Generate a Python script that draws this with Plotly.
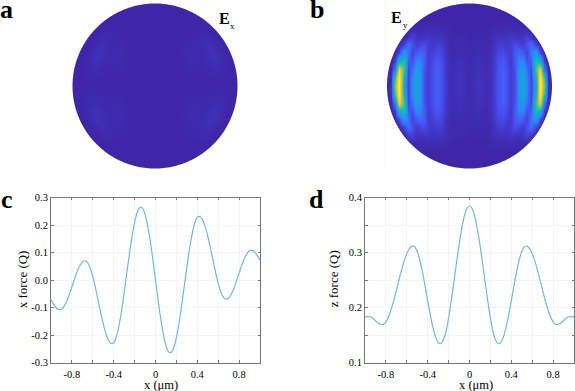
import numpy as np
import plotly.graph_objects as go

W, H = 575, 391
OFFSET = 20   # page is drawn taller than the window and moved up, so labels can touch the window edges
FIG_H = H + 2 * OFFSET

# Force curves, right half (x force is odd, z force is even about x = 0)
x_right = [0,.025,.05,.075,.1,.125,.15,.175,.2,.225,.25,.275,.3,.325,.35,.375,.4,.425,.45,.475,.5,
           .525,.55,.575,.6,.625,.65,.675,.7,.725,.75,.775,.8,.825,.85,.875,.9,.925,.95,.975,1.0]
fx_right = [0,-.0734,-.141,-.1975,-.2388,-.2613,-.2634,-.2454,-.2089,-.1568,-.0933,-.0236,.0466,.1118,.1665,.2066,.2284,.2309,.2187,.194,.1592,
            .1171,.0719,.0275,-.0121,-.0435,-.063,-.07,-.0653,-.0516,-.0304,-.004,.0248,.0531,.0777,.0961,.1063,.1075,.101,.088,.072]
fz_right = [.385,.3801,.3658,.3431,.314,.2805,.2454,.2115,.1812,.1558,.141,.1342,.1366,.1468,.164,.1865,.2123,.239,.2644,.2859,.3018,
            .3105,.3116,.3071,.2979,.2847,.2683,.25,.231,.2127,.1963,.1831,.1739,.1694,.1695,.172,.176,.1803,.1832,.184,.1825]

# Field maps: one quadrant
grid_x = [0,0.05,0.1,0.15,0.2,0.25,0.3,0.35,0.4,0.45,0.5,0.55,0.6,0.65,0.7,0.75,0.8,0.85,0.9,0.95,1.0]
grid_y = [0,0.1,0.2,0.3,0.4,0.5,0.6,0.7,0.8,0.9,0.98]
E_y = [
 [.01,.02,.03,.025,.015,.02,.05,.10,.13,.09,.05,.09,.25,.34,.20,.06,.30,1.0,.60,.03,0],
 [.01,.02,.03,.025,.015,.02,.05,.10,.13,.09,.05,.09,.24,.32,.19,.06,.36,.98,.50,.02,0],
 [.01,.015,.025,.02,.015,.02,.05,.095,.125,.085,.05,.10,.23,.28,.15,.07,.50,.85,.18,.01,0],
 [.01,.015,.02,.015,.01,.02,.045,.09,.11,.075,.045,.12,.20,.20,.09,.12,.45,.35,.05,0,0],
 [.005,.01,.015,.01,.01,.015,.04,.075,.085,.055,.05,.12,.15,.11,.06,.17,.27,.08,.01,0,0],
 [.005,.01,.01,.01,.005,.01,.03,.055,.055,.04,.055,.09,.07,.05,.10,.16,.06,.01,0,0,0],
 [0,.005,.005,.005,.005,.01,.02,.03,.03,.03,.04,.03,.025,.035,.06,.03,.005,0,0,0,0],
 [0,0,0,0,0,.005,.01,.01,.01,.015,.01,.01,.01,.01,.005,0,0,0,0,0,0],
 [0]*21, [0]*21, [0]*21,
]
E_x = [
 [0]*21,
 [0,0,0,0,0,0,0,0,.002,.002,.001,.001,.002,.003,.004,.005,.004,.002,0,0,0],
 [0,0,0,0,0,0,0,.002,.005,.006,.004,.003,.005,.008,.011,.012,.009,.004,0,0,0],
 [0,0,0,0,0,0,.001,.004,.009,.012,.008,.006,.009,.014,.019,.02,.012,.004,0,0,0],
 [0,0,0,0,0,0,.002,.005,.01,.012,.008,.008,.013,.019,.025,.018,.007,0,0,0,0],
 [0,0,0,0,0,0,.001,.003,.006,.006,.006,.01,.015,.02,.014,.006,0,0,0,0,0],
 [0,0,0,0,0,0,0,.001,.002,.004,.006,.01,.009,.006,.002,0,0,0,0,0,0],
 [0]*21, [0]*21, [0]*21, [0]*21,
]

parula = [[0,"rgb(62,38,168)"],[0.1,"rgb(72,82,244)"],[0.2,"rgb(46,135,247)"],[0.3,"rgb(20,165,220)"],
          [0.4,"rgb(10,185,190)"],[0.5,"rgb(60,195,140)"],[0.6,"rgb(130,200,90)"],[0.7,"rgb(200,190,60)"],
          [0.8,"rgb(250,195,60)"],[0.9,"rgb(250,220,40)"],[1,"rgb(249,251,21)"]]

x_ticks = [-0.8,-0.6,-0.4,-0.2,0,0.2,0.4,0.6,0.8]
x_labels = ["-0.8","","-0.4","","0","","0.4","","0.8"]
yc_ticks = [-0.3,-0.2,-0.1,0,0.1,0.2,0.3]
yc_labels = ["-0.3","-0.2","-0.1","0.0","0.1","0.2","0.3"]
yd_ticks = [0.1,0.15,0.2,0.25,0.3,0.35,0.4]
yd_labels = ["0.1","","0.2","","0.3","","0.4"]


def quad(rows):
    a = np.array(rows, dtype=float)
    a = np.hstack([a[:, :0:-1], a])
    return np.vstack([a[:0:-1], a])


xs = np.array(grid_x); xs = np.r_[-xs[:0:-1], xs]
ys = np.array(grid_y); ys = np.r_[-ys[:0:-1], ys]

xr = np.array(x_right)
x_full = np.r_[-xr[:0:-1], xr]
fxr = np.array(fx_right)
f_x = np.r_[-fxr[:0:-1], fxr]
fzr = np.array(fz_right)
f_z = np.r_[fzr[:0:-1], fzr]


def dom_x(a, b): return [a / W, b / W]
def dom_y(t, b): return [1 - (b + OFFSET) / FIG_H, 1 - (t + OFFSET) / FIG_H]


SERIF = "Liberation Serif"
R_PAD = 1.03           # axis half-range around the unit pupil
R_PX = 82.5            # pupil radius in pixels
half = R_PX * R_PAD

fig = go.Figure()
fig.add_trace(go.Heatmap(x=xs, y=ys, z=quad(E_x), zmin=0, zmax=1, colorscale=parula, zsmooth="best",
                         showscale=False, xaxis="x", yaxis="y"))
fig.add_trace(go.Heatmap(x=xs, y=ys, z=quad(E_y), zmin=0, zmax=1, colorscale=parula, zsmooth="best",
                         showscale=False, xaxis="x2", yaxis="y2"))
line = dict(color="#70B6E6", width=1.2, shape="spline", smoothing=1)
fig.add_trace(go.Scatter(x=x_full, y=f_x, mode="lines", line=line, xaxis="x3", yaxis="y3", showlegend=False))
fig.add_trace(go.Scatter(x=x_full, y=f_z, mode="lines", line=line, xaxis="x4", yaxis="y4", showlegend=False))

hidden = dict(visible=False, range=[-R_PAD, R_PAD], fixedrange=True, automargin=False)
font = dict(family=SERIF, size=10.5, color="black")
def xax(a, b):
    return dict(domain=dom_x(a, b), range=[-1, 1], tickmode="array", tickvals=x_ticks, ticktext=x_labels,
                ticks="inside", ticklen=2.5, tickcolor="#777", tickfont=font, showgrid=True, gridcolor="#f4f4f4",
                gridwidth=1, zeroline=False, showline=True, linecolor="#777", linewidth=1, mirror="ticks",
                tickangle=0, ticklabelstandoff=2, automargin=False)
def yax(rng, tv, tt):
    return dict(domain=dom_y(197.5, 362.5), range=rng, tickmode="array", tickvals=tv, ticktext=tt,
                ticks="inside", ticklen=2.5, tickcolor="#777", tickfont=font, showgrid=True, gridcolor="#f4f4f4",
                gridwidth=1, zeroline=False, showline=True, linecolor="#777", linewidth=1, mirror="ticks",
                automargin=False)

xa3 = xax(51, 260); xa3["anchor"] = "y3"
xa4 = xax(365, 574); xa4["anchor"] = "y4"
ya3 = yax([-0.3, 0.3], yc_ticks, yc_labels); ya3["anchor"] = "x3"
ya4 = yax([0.1, 0.4], yd_ticks, yd_labels); ya4["anchor"] = "x4"

fig.update_layout(
    width=W, height=FIG_H, margin=dict(l=0, r=0, t=0, b=0), paper_bgcolor="white", plot_bgcolor="white",
    showlegend=False,
    xaxis=dict(hidden, domain=dom_x(155 - half, 155 + half), anchor="y"),
    yaxis=dict(hidden, domain=dom_y(86 - half, 86 + half), anchor="x"),
    xaxis2=dict(hidden, domain=dom_x(469.5 - half, 469.5 + half), anchor="y2"),
    yaxis2=dict(hidden, domain=dom_y(86 - half, 86 + half), anchor="x2"),
    xaxis3=xa3, yaxis3=ya3, xaxis4=xa4, yaxis4=ya4,
)

# white mask outside the circular pupil
t = np.linspace(0, 2 * np.pi, 241)
ring = "M" + " L".join(f"{np.cos(v):.4f},{np.sin(v):.4f}" for v in t) + " Z"
p = R_PAD + 0.02
mask = f"M{-p},{-p} L{p},{-p} L{p},{p} L{-p},{p} Z " + ring
for ax_x, ax_y in (("x", "y"), ("x2", "y2")):
    fig.add_shape(type="path", path=mask, xref=ax_x, yref=ax_y, fillcolor="white", line_width=0,
                  fillrule="evenodd", layer="above")

def label(text, px, py, size, bold=True, anchor="left", angle=0):
    s = f"<b>{text}</b>" if bold else text
    fig.add_annotation(text=s, x=px / W, y=1 - (py + OFFSET) / FIG_H, xref="paper", yref="paper",
                       xanchor=anchor, yanchor="middle", textangle=angle,
                       showarrow=False, font=dict(family=SERIF, size=size, color="black"), borderpad=0, borderwidth=0)

label("a", 0, 9, 26)
label("b", 309.5, 9, 26)
label("c", 1, 199.3, 26)
label("d", 308.5, 199.3, 26)
label("E", 218.5, 18.6, 16)
label("x", 229.5, 26.5, 9, bold=False)
label("E", 391, 17.3, 16)
label("y", 403, 25, 9, bold=False)
label("x (μm)", 160.5, 384.5, 12.5, bold=False, anchor="center")
label("x (μm)", 476, 384.5, 12.5, bold=False, anchor="center")
label("x force (Q)", 22, 279.3, 13, bold=False, anchor="center", angle=-90)
label("z force (Q)", 333, 279.3, 13, bold=False, anchor="center", angle=-90)

fig.write_html("out.html", config={"displayModeBar": False},
               post_script=f"document.body.style.margin='0';document.body.style.marginTop='-{OFFSET}px';"
                           "document.documentElement.style.overflow='hidden';document.body.style.overflow='hidden';")
